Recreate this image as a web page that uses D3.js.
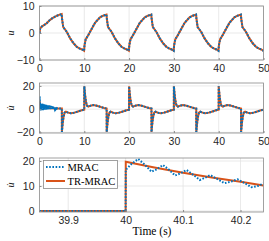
<!DOCTYPE html>
<html><head><meta charset="utf-8">
<script src="https://cdn.jsdelivr.net/npm/d3@7"></script>
<style>body{margin:0;background:#fff}svg{display:block}</style>
</head><body>
<script>
// ---------- data ----------
// panel 1: u (TR-MRAC and MRAC practically identical)
const uData = [
 [0,0],[0.15,1.6],[0.5,2.4],[1.0,2.9],[1.6,3.6],[2.2,4.6],[2.8,5.4],[3.4,6.0],[3.9,6.4],[4.5,6.8],[4.95,7.0],
 [5.05,5.0],[5.3,2.2],[5.7,1.3],[6.1,0.4],[6.85,-2.0],[7.6,-3.8],[8.3,-5.1],[8.9,-5.7],[9.5,-6.1],[9.95,-6.6],
 [10.05,-4.5],[10.3,-2.4],[10.9,-0.7],[11.7,1.7],[12.4,3.8],[13.5,5.8],[14.2,6.4],[14.95,6.8],
 [15.05,5.0],[15.3,2.2],[15.7,1.3],[16.1,0.4],[16.85,-2.0],[17.6,-3.8],[18.3,-5.1],[18.9,-5.7],[19.5,-6.1],[19.95,-6.6],
 [20.05,-4.5],[20.3,-2.4],[20.9,-0.7],[21.7,1.7],[22.4,3.8],[23.5,5.8],[24.2,6.4],[24.95,6.8],
 [25.05,5.0],[25.3,2.2],[25.7,1.3],[26.1,0.4],[26.85,-2.0],[27.6,-3.8],[28.3,-5.1],[28.9,-5.7],[29.5,-6.1],[29.95,-6.6],
 [30.05,-4.5],[30.3,-2.4],[30.9,-0.7],[31.7,1.7],[32.4,3.8],[33.5,5.8],[34.2,6.4],[34.95,6.8],
 [35.05,5.0],[35.3,2.2],[35.7,1.3],[36.1,0.4],[36.85,-2.0],[37.6,-3.8],[38.3,-5.1],[38.9,-5.7],[39.5,-6.1],[39.95,-6.6],
 [40.05,-4.5],[40.3,-2.4],[40.9,-0.7],[41.7,1.7],[42.4,3.8],[43.5,5.8],[44.2,6.4],[44.95,6.8],
 [45.05,5.0],[45.3,2.2],[45.7,1.3],[46.1,0.4],[46.85,-2.0],[47.6,-3.8],[48.3,-5.1],[48.9,-5.7],[49.5,-6.1],[50,-6.6]
];
// panel 2: du, TR-MRAC
const duTR = [
 [0,0],[0.01,7],[0.15,4],[0.4,2.5],[0.8,1.8],[1.5,1.2],[2.5,0.8],[3.5,0.6],[4.99,0.5],
 [5.0,-19.6],[5.1,-15.3],[5.24,-10],[5.4,-6],[5.6,-3],[5.9,-2.2],[6.4,-3],[7.0,-3.6],[7.8,-3.0],[8.6,-2.0],[9.4,-1.0],[9.99,-0.5],
 [10.0,19.6],[10.1,15.3],[10.24,10],[10.4,6],[10.6,3],[10.9,2.2],[11.4,3],[12.0,3.6],[12.8,3.0],[13.6,2.0],[14.4,1.0],[14.99,0.5],
 [15.0,-19.6],[15.1,-15.3],[15.24,-10],[15.4,-6],[15.6,-3],[15.9,-2.2],[16.4,-3],[17.0,-3.6],[17.8,-3.0],[18.6,-2.0],[19.4,-1.0],[19.99,-0.5],
 [20.0,19.6],[20.1,15.3],[20.24,10],[20.4,6],[20.6,3],[20.9,2.2],[21.4,3],[22.0,3.6],[22.8,3.0],[23.6,2.0],[24.4,1.0],[24.99,0.5],
 [25.0,-19.6],[25.1,-15.3],[25.24,-10],[25.4,-6],[25.6,-3],[25.9,-2.2],[26.4,-3],[27.0,-3.6],[27.8,-3.0],[28.6,-2.0],[29.4,-1.0],[29.99,-0.5],
 [30.0,19.6],[30.1,15.3],[30.24,10],[30.4,6],[30.6,3],[30.9,2.2],[31.4,3],[32.0,3.6],[32.8,3.0],[33.6,2.0],[34.4,1.0],[34.99,0.5],
 [35.0,-19.6],[35.1,-15.3],[35.24,-10],[35.4,-6],[35.6,-3],[35.9,-2.2],[36.4,-3],[37.0,-3.6],[37.8,-3.0],[38.6,-2.0],[39.4,-1.0],[39.99,-0.5],
 [40.0,19.6],[40.1,15.3],[40.24,10],[40.4,6],[40.6,3],[40.9,2.2],[41.4,3],[42.0,3.6],[42.8,3.0],[43.6,2.0],[44.4,1.0],[44.99,0.5],
 [45.0,-19.6],[45.1,-15.3],[45.24,-10],[45.4,-6],[45.6,-3],[45.9,-2.2],[46.4,-3],[47.0,-3.6],[47.8,-3.0],[48.6,-2.0],[49.4,-1.0],[50,-0.5]
];
// panel 2: du, MRAC early oscillation (afterwards it follows TR-MRAC)
const duMRACEarly = [
 [0,0],[0.02,11],[0.1,5.2],[0.2,-1.2],[0.3,5.0],[0.4,-1.0],[0.5,4.8],[0.6,-0.9],[0.7,4.6],[0.8,-0.8],
 [0.9,4.4],[1.0,-0.6],[1.1,4.2],[1.2,-0.5],[1.3,4.0],[1.4,-0.4],[1.5,3.8],[1.6,-0.3],[1.7,3.6],[1.8,-0.2],
 [1.9,3.4],[2.0,-0.1],[2.1,3.2],[2.2,0.0],[2.3,3.0],[2.4,0.1],[2.5,2.8],[2.6,0.2],[2.7,2.6],[2.8,0.2],
 [2.9,2.4],[3.0,0.3],[3.1,2.2],[3.2,0.3],[3.3,2.0],[3.4,0.4],[3.5,1.7],[3.6,0.4],[3.7,1.3],[3.8,0.5],[3.9,0.9],[4.0,0.6]
];
// panel 3: zoom around t = 40 s
const zoomTR = [[39.85,0],[40.0,0],[40.0002,19.7],[40.05,17.4],[40.1,15.3],[40.15,13.4],[40.2,11.7],[40.24,10.2]];
const zoomMRAC = [
 [39.85,0],[40.0,0],[40.0002,16.5],[40.01,18.8],[40.022,20.8],[40.033,18.6],[40.045,15.7],[40.055,16.8],[40.065,18.4],
 [40.075,16.6],[40.086,14.2],[40.096,15.1],[40.106,16.4],[40.117,14.6],[40.129,12.4],[40.138,13.3],[40.147,14.4],
 [40.159,12.9],[40.172,11.1],[40.184,11.8],[40.195,12.7],[40.207,11.2],[40.219,9.5],[40.23,10.0],[40.24,11.0]
];
const ticks1X = [0,10,20,30,40,50], ticks1Y = [-10,0,10];
const ticks2Y = [-20,0,20];
const ticks3X = [39.9,40,40.1,40.2], ticks3Y = [0,10,20];
const seriesNames = ["MRAC","TR-MRAC"];

// ---------- drawing ----------
const W = 269, H = 241;
const BLUE = "#0072BD", ORANGE = "#D95319";
const svg = d3.select("body").append("svg").attr("width", W).attr("height", H);
const L = 39.5, R = 263.5;

function panel(id, top, bottom, xDom, yDom, xt, yt, xfmt, ylab) {
  const x = d3.scaleLinear().domain(xDom).range([L, R]);
  const y = d3.scaleLinear().domain(yDom).range([bottom, top]);
  const g = svg.append("g");
  g.append("rect").attr("x", L).attr("y", top).attr("width", R - L).attr("height", bottom - top).attr("fill", "#fff");
  g.selectAll(".gx").data(xt).enter().append("line")
    .attr("x1", d => x(d)).attr("x2", d => x(d)).attr("y1", top).attr("y2", bottom)
    .attr("stroke", "#e3e3e3").attr("stroke-width", 0.8);
  g.selectAll(".gy").data(yt).enter().append("line")
    .attr("y1", d => y(d)).attr("y2", d => y(d)).attr("x1", L).attr("x2", R)
    .attr("stroke", "#e3e3e3").attr("stroke-width", 0.8);
  svg.append("clipPath").attr("id", id).append("rect")
    .attr("x", L).attr("y", top).attr("width", R - L).attr("height", bottom - top);
  const data = g.append("g").attr("clip-path", `url(#${id})`);
  const ax = d3.axisBottom(x).tickValues(xt).tickSize(-2).tickPadding(5).tickFormat(xfmt);
  const ay = d3.axisLeft(y).tickValues(yt).tickSize(-2).tickPadding(5);
  const gx = g.append("g").attr("transform", `translate(0,${bottom})`).call(ax);
  const gy = g.append("g").attr("transform", `translate(${L},0)`).call(ay);
  [gx, gy].forEach(a => {
    a.select(".domain").remove();
    a.selectAll("line").attr("stroke", "#8a8a8a");
    a.selectAll("text").attr("fill", "#262626").style("font-family", "Liberation Sans, Arial, sans-serif").style("font-size", "10.5px");
  });
  g.append("rect").attr("x", L).attr("y", top).attr("width", R - L).attr("height", bottom - top)
    .attr("fill", "none").attr("stroke", "#8a8a8a").attr("stroke-width", 0.8);
  g.append("text").attr("transform", `translate(14,${(top + bottom) / 2}) rotate(-90)`)
    .attr("text-anchor", "middle").style("font-family", "Liberation Serif, serif").style("font-style", "italic")
    .style("font-size", "10px").attr("fill", "#262626").text(ylab);
  return {x, y, data};
}
function draw(p, tr, mrac) {
  const line = d3.line().x(d => p.x(d[0])).y(d => p.y(d[1]));
  p.data.append("path").datum(tr).attr("d", line).attr("fill", "none").attr("stroke", ORANGE).attr("stroke-width", 2);
  p.data.append("path").datum(mrac).attr("d", line).attr("fill", "none").attr("stroke", BLUE)
    .attr("stroke-width", 2).attr("stroke-dasharray", "1.6,1.6");
}
const p1 = panel("c1", 6, 60, [0, 50], [-10, 10], ticks1X, ticks1Y, d3.format("d"), "u");
draw(p1, uData, uData);
const p2 = panel("c2", 83, 133, [0, 50], [-20.5, 22.5], ticks1X, ticks2Y, d3.format("d"), "u\u0307");
draw(p2, duTR, duMRACEarly.concat(duTR.filter(d => d[0] > 4)));
const p3 = panel("c3", 158, 212, [39.85, 40.24], [-0.4, 21.2], ticks3X, ticks3Y, d => (d === 40 ? "40" : d.toFixed(1)), "u\u0307");
draw(p3, zoomTR, zoomMRAC);

// legend
const lg = svg.append("g");
lg.append("rect").attr("x", 43.5).attr("y", 160.5).attr("width", 74).attr("height", 28)
  .attr("fill", "#fff").attr("stroke", "#8a8a8a").attr("stroke-width", 0.8);
const ly = [167, 181];
seriesNames.forEach((n, i) => {
  lg.append("line").attr("x1", 46).attr("x2", 65).attr("y1", ly[i]).attr("y2", ly[i])
    .attr("stroke", i === 0 ? BLUE : ORANGE).attr("stroke-width", 2)
    .attr("stroke-dasharray", i === 0 ? "1.6,1.6" : null);
  lg.append("text").attr("x", 67.5).attr("y", ly[i] + 3.5).style("font-family", "Liberation Serif, serif")
    .style("font-size", "10.5px").attr("fill", "#000").text(n);
});
svg.append("text").attr("x", 152).attr("y", 235).attr("text-anchor", "middle")
  .style("font-family", "Liberation Serif, serif").style("font-size", "11.5px").attr("fill", "#000").text("Time (s)");
</script>
</body></html>
